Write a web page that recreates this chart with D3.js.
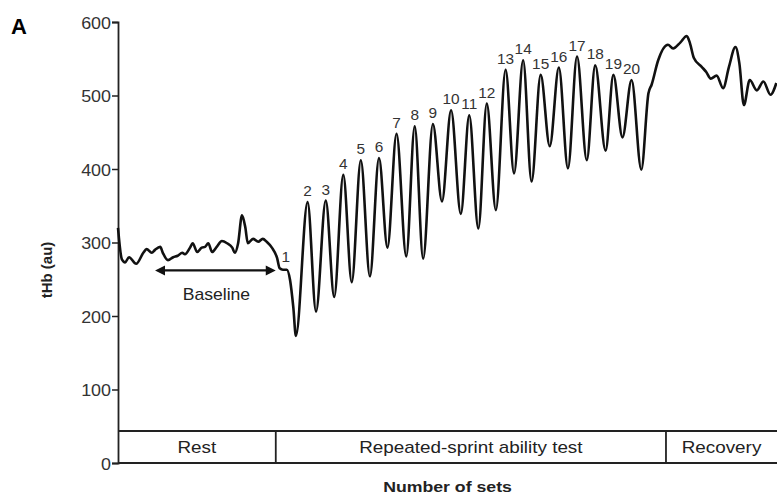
<!DOCTYPE html>
<html>
<head>
<meta charset="utf-8">
<script src="https://cdn.jsdelivr.net/npm/d3@7"></script>
<style>
  body { margin: 0; background: #fff; }
  text { font-family: Arial, "Liberation Sans", sans-serif; fill: #222; }
</style>
</head>
<body>
<div id="chart"></div>
<script>
// tHb trace, time in s
var traceTime = [0, 6, 11, 17, 28, 39, 44, 52, 57, 65, 69, 77, 85, 92, 99, 103, 111, 115, 122, 129,
  134, 139, 145, 152, 160, 168, 176, 180, 185, 191, 196, 200, 208, 216, 223, 229, 237, 245, 249, 254,
  260, 265, 270, 274,
  292, 305, 320, 333, 347, 360, 374, 388, 402, 415, 429, 444, 457, 470, 485, 499, 513, 528, 541, 555,
  568, 582, 597, 610, 624, 637, 651, 665, 679, 693, 707, 722, 735, 751, 763, 777, 791, 806,
  817, 822, 832, 847, 855, 866, 876, 881, 887, 899, 906, 913, 922, 932, 941, 951, 957, 964, 973, 984,
  994, 1005, 1014];
var traceValue = [320, 277, 273, 280, 271, 286, 291, 286, 290, 294, 286, 276, 280, 282, 286, 284, 293, 299, 287, 293,
  294, 299, 287, 294, 302, 299, 293, 286, 299, 337, 321, 299, 305, 301, 305, 301, 293, 279, 265, 263,
  263, 249, 212, 173,
  355, 206, 357, 226, 392, 246, 412, 254, 415, 293, 448, 281, 458, 278, 461, 356, 480, 339, 473, 319,
  489, 344, 535, 394, 548, 383, 528, 431, 538, 401, 553, 412, 541, 425, 528, 443, 521, 399,
  503, 515, 548, 569, 564, 572, 581, 571, 551, 539, 532, 523, 527, 510, 539, 566, 544, 487, 521, 507,
  519, 501, 517];

// set numbers and where their labels sit (time, tHb of the peak)
var setNumbers = d3.range(1, 21);
var setTime = [260, 292, 320, 347, 374, 402, 429, 457, 485, 513, 541, 568, 597, 624, 651, 679, 707, 735, 763, 791];
var setPeak = [263, 355, 357, 392, 412, 415, 448, 458, 461, 480, 473, 489, 535, 548, 528, 538, 553, 541, 528, 521];

// phases along the bottom
var phaseNames = ["Rest", "Repeated-sprint ability test", "Recovery"];
var phaseStart = [0, 243, 844];
var phaseEnd = [243, 844, 1015];

// baseline window
var baselineSpan = [57, 243];
var baselineLevel = 262;

var yTicks = [0, 100, 200, 300, 400, 500, 600];

var svgWidth = 777;
var svgHeight = 495;
var stretch = 1.18; // the source figure is a little wider than tall

var svg = d3.select("#chart")
  .append("svg")
  .attr("width", svgWidth)
  .attr("height", svgHeight);

var xScale = d3.scaleLinear()
  .domain([0, 1015])
  .range([118, 777]);

var yScale = d3.scaleLinear()
  .domain([0, 600])
  .range([463, 22]);

var bandTop = 431;

// put a text at x,y, widened like the source
function placeText(sel, x, y, sx) {
  return sel.attr("transform", (d, i) => {
    var px = typeof x === "function" ? x(d, i) : x;
    var py = typeof y === "function" ? y(d, i) : y;
    return `translate(${px}, ${py}) scale(${sx || stretch}, 1)`;
  });
}

// y axis
var leftAxis = d3.axisLeft(yScale)
  .tickValues(yTicks)
  .tickSize(6)
  .tickFormat(d3.format("d"));

var yAxis = svg.append("g")
  .attr("transform", `translate(${xScale(0)}, 0)`)
  .call(leftAxis);

yAxis.select(".domain").attr("stroke", "#222").attr("stroke-width", 1.8);
yAxis.selectAll(".tick line").attr("stroke", "#222").attr("stroke-width", 1.5);
yAxis.selectAll(".tick text")
  .attr("x", null)
  .attr("dy", null)
  .style("font-family", "Arial, 'Liberation Sans', sans-serif")
  .style("font-size", "16px")
  .style("fill", "#333");
placeText(yAxis.selectAll(".tick text"), -7, 6, 1.12);

// x axis line
svg.append("line")
  .attr("x1", xScale(0))
  .attr("x2", xScale(1015))
  .attr("y1", yScale(0))
  .attr("y2", yScale(0))
  .attr("stroke", "#222")
  .attr("stroke-width", 2);

// phase band
svg.append("line")
  .attr("x1", xScale(0))
  .attr("x2", xScale(1015))
  .attr("y1", bandTop)
  .attr("y2", bandTop)
  .attr("stroke", "#222")
  .attr("stroke-width", 1.8);

svg.selectAll(".divider")
  .data(phaseStart.slice(1))
  .enter()
  .append("line")
  .attr("x1", d => xScale(d))
  .attr("x2", d => xScale(d))
  .attr("y1", bandTop)
  .attr("y2", yScale(0))
  .attr("stroke", "#222")
  .attr("stroke-width", 1.8);

var phaseText = svg.selectAll(".phase")
  .data(phaseNames)
  .enter()
  .append("text")
  .attr("text-anchor", "middle")
  .style("font-size", "16px")
  .text(d => d);
placeText(phaseText, (d, i) => (xScale(phaseStart[i]) + xScale(phaseEnd[i])) / 2,
  (bandTop + yScale(0)) / 2 + 6);

// trace
var traceData = traceTime.map((t, i) => ({ t: t, v: traceValue[i] }));

var line = d3.line()
  .x(d => xScale(d.t))
  .y(d => yScale(d.v))
  .curve(d3.curveMonotoneX);

svg.append("path")
  .datum(traceData)
  .attr("d", line)
  .attr("fill", "none")
  .attr("stroke", "#111")
  .attr("stroke-width", 2.6)
  .attr("stroke-linejoin", "round");

// set labels
var setText = svg.selectAll(".setLabel")
  .data(setNumbers)
  .enter()
  .append("text")
  .attr("text-anchor", "middle")
  .style("font-size", "14px")
  .style("fill", "#333")
  .text(d => d);
placeText(setText, (d, i) => xScale(setTime[i]) + (i == 0 ? -1 : 0),
  (d, i) => yScale(setPeak[i]) - (i == 0 ? 8 : 6), 1.1);

// baseline arrow
var ax1 = xScale(baselineSpan[0]);
var ax2 = xScale(baselineSpan[1]);
var ay = yScale(baselineLevel);

svg.append("line")
  .attr("x1", ax1 + 4)
  .attr("x2", ax2 - 4)
  .attr("y1", ay)
  .attr("y2", ay)
  .attr("stroke", "#111")
  .attr("stroke-width", 2.2);

svg.append("path")
  .attr("d", `M${ax1},${ay} l10,-5 l0,10 Z M${ax2},${ay} l-10,-5 l0,10 Z`)
  .attr("fill", "#111");

placeText(svg.append("text")
  .attr("text-anchor", "middle")
  .style("font-size", "16px")
  .text("Baseline"), (ax1 + ax2) / 2 + 1, ay + 30, 1.1);

// axis titles
svg.append("text")
  .attr("transform", "translate(52, 270) rotate(-90)")
  .attr("text-anchor", "middle")
  .style("font-size", "15px")
  .style("font-weight", "bold")
  .text("tHb (au)");

placeText(svg.append("text")
  .attr("text-anchor", "middle")
  .style("font-size", "15px")
  .style("font-weight", "bold")
  .text("Number of sets"), (xScale(0) + xScale(1015)) / 2, 492);

svg.append("text")
  .attr("x", 11)
  .attr("y", 34)
  .style("font-size", "22px")
  .style("font-weight", "bold")
  .style("fill", "#000")
  .text("A");
</script>
</body>
</html>
